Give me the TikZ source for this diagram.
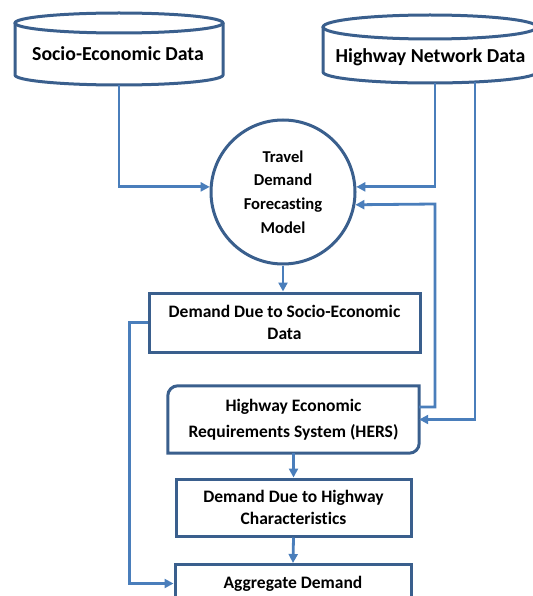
\documentclass[tikz,border=0pt]{standalone}
\usepackage{fontspec}
\setmainfont{Carlito}[Ligatures=NoCommon]
\usetikzlibrary{arrows.meta,calc}
\definecolor{bordc}{HTML}{3A5F8D}
\definecolor{linec}{HTML}{4A7EBB}
\tikzset{
  boxline/.style={draw=bordc, line width=3pt},
  stepbox/.style={boxline, fill=white, rectangle, inner sep=0pt, align=center,
    font=\fontsize{17.5}{22}\selectfont\bfseries},
  plainbox/.style={draw=none, rectangle, inner sep=0pt, align=center,
    font=\fontsize{17.5}{25.5}\selectfont\bfseries},
  cyllabel/.style={draw=none, inner sep=0pt, font=\fontsize{19.8}{22}\selectfont\bfseries},
  conn/.style={draw=linec, line width=2.8pt, -{Triangle[length=9pt,width=9pt]}},
}
\begin{document}
\begin{tikzpicture}[x=1pt,y=1pt]
\useasboundingbox (0,0) rectangle (532,-596);
% cylinders
\draw[boxline, fill=white] (15,-23) -- (15,-75) arc[start angle=180,end angle=360,x radius=104,y radius=10] -- (223,-23);
\draw[boxline, fill=white] (119,-23) ellipse [x radius=104, y radius=10];
\draw[boxline, fill=white] (323,-27) -- (323,-72) arc[start angle=180,end angle=360,x radius=107,y radius=11] -- (537,-27);
\draw[boxline, fill=white] (430,-27) ellipse [x radius=107, y radius=12];
\node[cyllabel] (socio) at (118,-54) {Socio-Economic Data};
\node[cyllabel] (hwy) at (430.5,-57) {Highway Network Data};
\coordinate (s1) at (119,-85);
\coordinate (h1) at (435,-83);
\coordinate (h2) at (475,-82);
\coordinate (k) at (435,-204);
% circle
\node[boxline, fill=white, circle, minimum size=144pt, inner sep=0pt, align=center,
  font=\fontsize{16.6}{23.6}\selectfont\bfseries] (tdfm) at (283,-192) {Travel\\Demand\\Forecasting\\Model};
% boxes
\node[stepbox, minimum width=271pt, minimum height=59pt] (dso) at (284.5,-322.5) {Demand Due to Socio-Economic\\Data};
\node[plainbox, minimum width=251pt, minimum height=67pt] (hers) at (293.5,-419.5) {Highway Economic\\Requirements System (HERS)};
\draw[boxline] (hers.south west) -- ([yshift=-10pt]hers.north west) arc[start angle=180,end angle=90,radius=10pt] -- (hers.north east) -- ([yshift=10pt]hers.south east) arc[start angle=0,end angle=-90,radius=10pt] -- cycle;
\node[stepbox, minimum width=235pt, minimum height=57pt] (dhc) at (293.5,-507.5) {Demand Due to Highway\\Characteristics};
\node[stepbox, minimum width=236pt, minimum height=38pt, anchor=north] (agg) at (293,-563) {Aggregate Demand};
% connectors
\draw[conn] (s1) |- (tdfm.176);
\draw[conn] (h1) |- (tdfm.4);
\draw[conn] ([yshift=12.5pt]hers.east) -| (k) -- (tdfm.350.5);
\draw[conn] (h2) |- (hers.east);
\draw[conn] (tdfm.south) -- (tdfm.south |- dso.north);
\draw[conn] (dso.west) -- ++(-18,0) |- (agg.west);
\draw[conn] (hers.south -| dhc.north) -- (dhc.north);
\draw[conn] (dhc.south) -- (agg.north);
\end{tikzpicture}
\end{document}
